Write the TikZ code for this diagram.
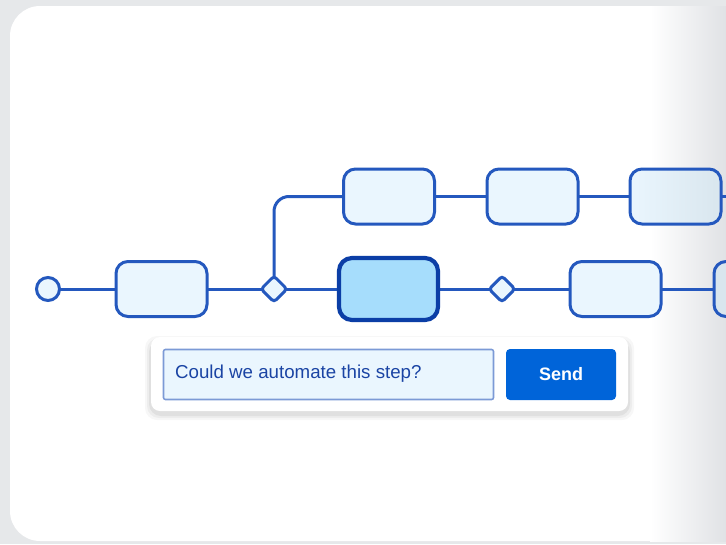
\documentclass[tikz,border=0pt]{standalone}
\usepackage{fontspec}
\setmainfont{Liberation Sans}
\usetikzlibrary{shapes.geometric}
\definecolor{bgrey}{HTML}{E6E8EA}
\definecolor{fadegrey}{HTML}{E0E2E5}
\definecolor{stroke}{HTML}{2458BE}
\definecolor{paleblue}{HTML}{EAF6FE}
\definecolor{paletint}{HTML}{D9E6EE}
\definecolor{hifill}{HTML}{A6DDFC}
\definecolor{histroke}{HTML}{0B3EA6}
\definecolor{fieldborder}{HTML}{7C9AD6}
\definecolor{fieldtext}{HTML}{1A44A4}
\definecolor{sendblue}{HTML}{0064D9}
\pgfdeclarelayer{bottom}
\pgfdeclarelayer{lines}
\pgfsetlayers{bottom,lines,main}
\begin{document}
\begin{tikzpicture}[x=1pt,y=-1pt,
  conn/.style={draw=stroke,line width=3pt},
  stepbox/.style={draw=stroke,line width=3pt,fill=paleblue,rounded corners=12pt,minimum width=91pt,minimum height=55pt,inner sep=0pt},
  fadedbox/.style={stepbox,left color=paleblue,right color=paletint},
  hibox/.style={draw=histroke,line width=4.2pt,fill=hifill,rounded corners=13pt,minimum width=99pt,minimum height=62pt,inner sep=0pt},
  gate/.style={draw=stroke,line width=3pt,fill=paleblue,diamond,minimum size=27pt,inner sep=0pt,rounded corners=3pt},
  startnode/.style={draw=stroke,line width=3pt,fill=paleblue,circle,minimum size=23pt,inner sep=0pt},
  card/.style={fill=white,rounded corners=9pt},
  field/.style={draw=fieldborder,line width=1.6pt,fill=paleblue,rounded corners=2pt,minimum width=330pt,minimum height=50pt,inner sep=0pt},
  sendbtn/.style={fill=sendblue,rounded corners=4pt,minimum width=110pt,minimum height=51pt,inner sep=0pt,text=white,font=\bfseries\fontsize{18}{21}\selectfont}
]
\useasboundingbox (0,0) rectangle (726,544);
\clip (0,0) rectangle (726,544);
% background
\begin{pgfonlayer}{bottom}
\fill[bgrey] (0,0) rectangle (726,544);
\fill[white,rounded corners=30pt] (10,6) rectangle (780,541);
\shade[left color=white,right color=fadegrey] (650,6) rectangle (726,541);
\end{pgfonlayer}

% nodes
\node[startnode] (s) at (48,289) {};
\node[stepbox] (b1) at (161.5,289) {};
\node[gate] (d1) at (274,289) {};
\node[stepbox] (t1) at (389,196.5) {};
\node[stepbox] (t2) at (532.5,196.5) {};
\node[fadedbox] (t3) at (675.5,196.5) {};
\node[hibox] (h) at (388.5,289) {};
\node[gate] (d2) at (502,289) {};
\node[stepbox] (b2) at (615.5,289) {};
\node[fadedbox,left color=paletint] (b3) at (759.5,289) {};
\coordinate (tend) at (760,196.5);

% connectors
\begin{pgfonlayer}{lines}
\draw[conn] (s.center) -- (b1.center);
\draw[conn] (b1.center) -- (d1.center);
\draw[conn] (d1.center) -- (h.center);
\draw[conn] (h.center) -- (d2.center);
\draw[conn] (d2.center) -- (b2.center);
\draw[conn] (b2.center) -- (b3.center);
\draw[conn,rounded corners=15pt] (d1.center) |- (t1.center);
\draw[conn] (t1.center) -- (t2.center);
\draw[conn] (t2.center) -- (t3.center);
\draw[conn] (t3.center) -- (tend);
\end{pgfonlayer}

% input card with soft shadow
\foreach \i/\o in {6/0.03,4/0.04,2/0.05}{
  \fill[black,opacity=\o,rounded corners=12pt] (151-\i,339-\i+3) rectangle (628+\i,411+\i+3);
}
\node[card,minimum width=477pt,minimum height=74pt,inner sep=0pt] (c) at (389.5,374) {};
\node[field] (f) at (328.5,374.5) {};
\node[anchor=west,text=fieldtext,font=\fontsize{18.7}{22}\selectfont,inner sep=0pt] (q) at (175,374) {Could we automate this step?};
\node[sendbtn] (send) at (561,374.5) {Send};
\end{tikzpicture}
\end{document}
